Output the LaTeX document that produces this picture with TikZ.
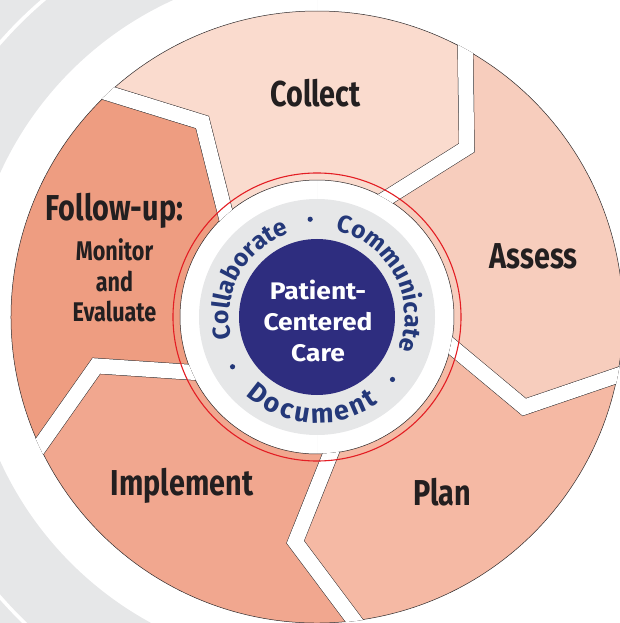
\documentclass[tikz,border=0pt]{standalone}
\usepackage{fontspec}
\setmainfont{Fira Sans}
\newfontfamily\labelfont[FakeStretch=0.8]{Fira Sans}
\newfontfamily\corefont[FakeStretch=1.1]{Fira Sans}
\usetikzlibrary{calc,decorations.text}

\definecolor{bggrey}{RGB}{230,231,232}
\definecolor{edgegrey}{RGB}{45,41,42}
\definecolor{labelgrey}{RGB}{35,31,32}
\definecolor{collectfill}{RGB}{250,219,206}
\definecolor{assessfill}{RGB}{247,205,189}
\definecolor{planfill}{RGB}{245,185,164}
\definecolor{implfill}{RGB}{241,167,143}
\definecolor{followfill}{RGB}{238,157,129}
\definecolor{corenavy}{RGB}{46,45,127}
\definecolor{ringblue}{RGB}{36,56,121}
\definecolor{ringred}{RGB}{227,30,36}

\tikzset{
  stage/.style={anchor=base, inner sep=0pt, text=labelgrey,
    font=\labelfont\bfseries\fontsize{36}{36}\selectfont},
  substage/.style={stage, font=\labelfont\bfseries\fontsize{27}{27}\selectfont},
  core/.style={anchor=base, inner sep=0pt, text=white,
    font=\corefont\bfseries\fontsize{24}{24}\selectfont},
}

\begin{document}
\begin{tikzpicture}[x=1pt,y=1pt]
      \useasboundingbox (-317,-306) rectangle (302,317);

      % grey backdrop on the left
      \begin{scope}[even odd rule]
        \clip (-317,-306) rectangle (0,317);
        \fill[bggrey] (-317,-306) rectangle (0,317) (0,0) circle (348);
        \draw[white, line width=3.5] (0,-3) circle (421);
      \end{scope}

      % the five stages
      \foreach \a/\col [evaluate=\a as \b using \a-72] in
          {133/collectfill, 61/assessfill, -11/planfill, -83/implfill, -155/followfill}
        \filldraw[fill=\col, draw=edgegrey, line width=0.5]
          (\a:306) arc[start angle=\a, end angle=\b, radius=306]
          -- ({\b-12.5}:226) -- ({\b-1.2}:137)
          arc[start angle=\b-1.2, end angle=\a-1.2, radius=137]
          -- ({\a-12.5}:226) -- cycle;

      % white gaps between stages
      \begin{scope}[even odd rule]
        \clip (0,0) circle (306.4) (0,0) circle (136.6);
        \foreach \a in {133,61,-11,-83,-155}
          \draw[line width=0.5, draw=edgegrey, double=white, double distance=15]
            ($({\a-12.5}:226)!1.4!(\a:306)$) -- ({\a-12.5}:226)
            -- ($({\a-12.5}:226)!1.4!({\a-1.2}:137)$);
      \end{scope}

      % centre
      \fill[bggrey] (0,0) circle (118);
      \fill[corenavy] (0,0) circle (78);
      \draw[ringred, line width=1.1] (0,0) circle (144);

      \path[decorate, decoration={text along path, text align=center,
          text={|\bfseries\fontsize{24.5}{24}\selectfont\color{ringblue}|Collaborate}}]
        (201:88) arc[start angle=201, end angle=101, radius=88];
      \path[decorate, decoration={text along path, text align=center,
          text={|\bfseries\fontsize{24.5}{24}\selectfont\color{ringblue}|Communicate}}]
        (88:88) arc[start angle=88, end angle=-32, radius=88];
      \path[decorate, decoration={text along path, text align=center,
          text={|\bfseries\fontsize{27}{27}\selectfont\color{ringblue}\kern2.6pt|Document}}]
        (-144:106) arc[start angle=-144, end angle=-44, radius=106];
      \fill[ringblue] (94:98) circle (2.6);
      \fill[ringblue] (-39.6:98) circle (2.6);
      \fill[ringblue] (-149.5:98) circle (2.6);

      \node[core] (patient)  at (1,17)    {Patient-};
      \node[core] (centered) at (1,-13)   {Centered};
      \node[core] (care)     at (1,-44.7) {Care};

      % stage labels
      \node[stage] (collect)   at (-1.5,210.4)   {Collect};
      \node[stage] (assess)    at (216.7,48.5)   {Assess};
      \node[stage] (plan)      at (125,-188.3)   {Plan};
      \node[stage] (implement) at (-135,-178.5)  {Implement};
      \node[stage] (follow)    at (-202.5,96)    {Follow-up:};
      \node[substage] (monitor)  at (-202.5,56.4) {Monitor};
      \node[substage] (and)      at (-202.5,25.6) {and};
      \node[substage] (evaluate) at (-202.5,-4.8) {Evaluate};
\end{tikzpicture}
\end{document}
